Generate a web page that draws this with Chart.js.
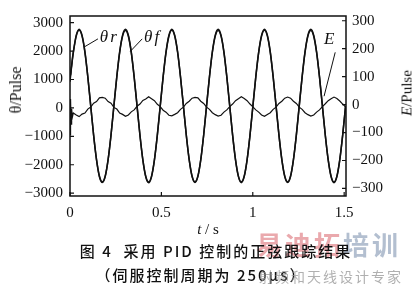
<!DOCTYPE html>
<html>
<head>
<meta charset="utf-8">
<script src="https://cdn.jsdelivr.net/npm/chart.js@4/dist/chart.umd.min.js"></script>
<style>
  html,body{margin:0;padding:0;background:#fff;}
  #wrap{position:relative;width:412px;height:284px;overflow:hidden;background:#fff;}
  #c{position:absolute;left:0;top:0;width:412px;height:284px;}
  .t{position:absolute;white-space:nowrap;color:#111;}
  .serif{font-family:"Liberation Serif","DejaVu Serif",serif;}
  .cjk{font-family:"Noto Sans CJK SC","Noto Sans",sans-serif;}
</style>
</head>
<body>
<div id="wrap">
  <canvas id="c" width="412" height="284"></canvas>
  <div class="t serif" style="left:16px;top:90px;font-size:16px;transform:translate(-50%,-50%) rotate(-90deg);">θ/Pulse</div>
  <div class="t serif" style="left:407px;top:93px;font-size:15px;transform:translate(-50%,-50%) rotate(-90deg);"><i>E</i>/Pulse</div>
  <div class="t serif" style="left:208px;top:229px;font-size:15px;transform:translate(-50%,-50%);"><i>t</i> / s</div>
  <div class="t cjk" style="left:256px;top:243px;font-size:26px;font-weight:bold;letter-spacing:3px;transform:translateY(-50%);"><span style="color:#eaa9ad">易迪拓</span><span style="color:#b3bfd0">培训</span></div>
  <div class="t cjk" style="left:216px;top:250px;font-size:15px;font-weight:500;letter-spacing:2px;transform:translate(-50%,-50%);">图 4&nbsp; 采用 PID 控制的正弦跟踪结果</div>
  <div class="t cjk" style="left:201px;top:274px;font-size:15px;font-weight:500;letter-spacing:2px;transform:translate(-50%,-50%);">（伺服控制周期为 250μs）</div>
  <div class="t cjk" style="left:259px;top:276px;font-size:14px;letter-spacing:2px;color:rgba(150,150,150,0.75);transform:translateY(-50%);">射频和天线设计专家</div>
</div>
<script>
// ---- data ----
const timeS = [0, 0.002, 0.004, 0.006, 0.009, 0.013, 0.0183, 0.0342,
  0.0500, 0.0658, 0.0817, 0.0975, 0.1134, 0.1292, 0.1451, 0.1609, 0.1768, 0.1926, 0.2084, 0.2243, 0.2401, 0.2560, 0.2718, 0.2877,
  0.3035, 0.3193, 0.3352, 0.3510, 0.3669, 0.3827, 0.3986, 0.4144, 0.4303, 0.4461, 0.4619, 0.4778, 0.4936, 0.5095, 0.5253, 0.5412,
  0.5570, 0.5728, 0.5887, 0.6045, 0.6204, 0.6362, 0.6521, 0.6679, 0.6838, 0.6996, 0.7154, 0.7313, 0.7471, 0.7630, 0.7788, 0.7947,
  0.8105, 0.8263, 0.8422, 0.8580, 0.8739, 0.8897, 0.9056, 0.9214, 0.9373, 0.9531, 0.9689, 0.9848, 1.0006, 1.0165, 1.0323, 1.0482,
  1.0640, 1.0798, 1.0957, 1.1115, 1.1274, 1.1432, 1.1591, 1.1749, 1.1908, 1.2066, 1.2224, 1.2383, 1.2541, 1.2700, 1.2858, 1.3017,
  1.3175, 1.3333, 1.3492, 1.3650, 1.3809, 1.3967, 1.4126, 1.4284, 1.4443, 1.4601, 1.4759, 1.4918, 1.5076];

const thetaR = [934, 1054, 1179, 1296, 1469, 1688, 1949, 2527,
  2730, 2527, 1949, 1085, 65, -955, -1819, -2397, -2600, -2397, -1819, -955, 65, 1085, 1949, 2527,
  2725, 2522, 1945, 1080, 60, -960, -1825, -2403, -2605, -2400, -1822, -958, 62, 1082, 1946, 2524,
  2732, 2529, 1950, 1087, 66, -954, -1818, -2395, -2598, -2396, -1818, -953, 66, 1086, 1950, 2528,
  2728, 2525, 1947, 1083, 63, -957, -1821, -2399, -2602, -2398, -1820, -956, 64, 1084, 1948, 2526,
  2730, 2527, 1949, 1085, 65, -955, -1819, -2397, -2600, -2397, -1819, -955, 65, 1085, 1949, 2527,
  2726, 2523, 1946, 1082, 62, -958, -1822, -2400, -2603, -2399, -1821, -957, 63];

const thetaF = [934, 1164, 1159, 1366, 1484, 1733, 1979, 2564,
  2773, 2561, 1979, 1101, 74, -960, -1830, -2421, -2626, -2420, -1830, -960, 75, 1101, 1979, 2562,
  2767, 2559, 1971, 1099, 66, -962, -1840, -2423, -2633, -2421, -1836, -959, 69, 1102, 1973, 2562,
  2772, 2564, 1979, 1104, 75, -958, -1830, -2418, -2624, -2420, -1830, -957, 75, 1103, 1979, 2564,
  2769, 2563, 1974, 1102, 70, -959, -1835, -2420, -2630, -2420, -1834, -958, 72, 1103, 1975, 2563,
  2772, 2562, 1978, 1102, 74, -959, -1831, -2420, -2627, -2420, -1831, -959, 74, 1102, 1978, 2563,
  2767, 2560, 1973, 1101, 69, -961, -1836, -2421, -2630, -2421, -1834, -959, 71];

const errorE = [0, -110, 20, -70, -15, -45, -30, -37,
  -43, -34, -30, -16, -9, 5, 11, 24, 26, 23, 11, 5, -10, -16, -30, -35,
  -42, -37, -26, -19, -6, 2, 15, 20, 28, 21, 14, 1, -7, -20, -27, -38,
  -40, -35, -29, -17, -9, 4, 12, 23, 26, 24, 12, 4, -9, -17, -29, -36,
  -41, -38, -27, -19, -7, 2, 14, 21, 28, 22, 14, 2, -8, -19, -27, -37,
  -42, -35, -29, -17, -9, 4, 12, 23, 27, 23, 12, 4, -9, -17, -29, -36,
  -41, -37, -27, -19, -7, 3, 14, 21, 27, 22, 13, 2, -8];

const xTickValues = [0, 0.5, 1, 1.5];
const thetaTickValues = [-3000, -2000, -1000, 0, 1000, 2000, 3000];
const errorTickValues = [-300, -200, -100, 0, 100, 200, 300];

// ---- annotation placement (data units) ----
const notes = [
  {text:'θr', axis:'y',  t:0.215, v:2490, from:[0.153, 2430], to:[0.082, 2160]},
  {text:'θf', axis:'y',  t:0.452, v:2490, from:[0.395, 2430], to:[0.330, 1990]},
  {text:'E',  axis:'y1', t:1.418, v:232,  from:[1.451, 187],  to:[1.390, 30]}
];

const pts = (ys) => timeS.map((x, i) => ({x, y: ys[i]}));
const ink = '#111';
const tickFont = {family:'"Liberation Serif", "DejaVu Serif", serif', size:15};
const fmt = (v) => v < 0 ? '\u2212' + Math.abs(v) : String(v);

const framePlugin = {
  id: 'frame',
  afterDatasetsDraw(chart) {
    const {ctx, chartArea: a, scales} = chart;
    ctx.save();
    ctx.strokeStyle = ink;
    ctx.lineWidth = 1.5;
    ctx.strokeRect(a.left, a.top, a.right - a.left, a.bottom - a.top);
    ctx.lineWidth = 1.2;
    ctx.beginPath();
    scales.x.ticks.forEach(tk => {
      const p = scales.x.getPixelForValue(tk.value);
      ctx.moveTo(p, a.bottom); ctx.lineTo(p, a.bottom - 4);
    });
    scales.y.ticks.forEach(tk => {
      const p = scales.y.getPixelForValue(tk.value);
      ctx.moveTo(a.left, p); ctx.lineTo(a.left + 4, p);
    });
    scales.y1.ticks.forEach(tk => {
      const p = scales.y1.getPixelForValue(tk.value);
      ctx.moveTo(a.right, p); ctx.lineTo(a.right - 4, p);
    });
    ctx.stroke();
    // annotations
    ctx.fillStyle = ink;
    ctx.font = 'italic 17px "Liberation Serif", "DejaVu Serif", serif';
    ctx.textAlign = 'center';
    ctx.textBaseline = 'middle';
    ctx.lineWidth = 1;
    notes.forEach(n => {
      const ys = scales[n.axis];
      if ('letterSpacing' in ctx) ctx.letterSpacing = n.text.length > 1 ? '2px' : '0px';
      ctx.fillText(n.text, scales.x.getPixelForValue(n.t), ys.getPixelForValue(n.v));
      ctx.beginPath();
      ctx.moveTo(scales.x.getPixelForValue(n.from[0]), ys.getPixelForValue(n.from[1]));
      ctx.lineTo(scales.x.getPixelForValue(n.to[0]), ys.getPixelForValue(n.to[1]));
      ctx.stroke();
    });
    ctx.restore();
  }
};

new Chart(document.getElementById('c'), {
  type: 'line',
  data: {
    datasets: [
      {label:'θr', data: pts(thetaR), yAxisID:'y', borderColor: ink, borderWidth:1.5, pointRadius:0, cubicInterpolationMode:'monotone'},
      {label:'θf', data: pts(thetaF), yAxisID:'y', borderColor: ink, borderWidth:1.5, pointRadius:0, cubicInterpolationMode:'monotone'},
      {label:'E',  data: pts(errorE), yAxisID:'y1', borderColor: ink, borderWidth:1.2, pointRadius:0, tension:0}
    ]
  },
  options: {
    responsive: false,
    devicePixelRatio: 1,
    animation: false,
    events: [],
    layout: {padding: {top: 7, left: 0, right: 0, bottom: 0}},
    plugins: {legend: {display: false}, tooltip: {enabled: false}},
    scales: {
      x: {
        type: 'linear', position: 'bottom', min: 0, max: 1.51,
        afterBuildTicks: s => { s.ticks = xTickValues.map(v => ({value: v})); },
        afterFit: s => { s.height = 88; },
        grid: {display: false, drawTicks: false}, border: {display: false},
        ticks: {font: tickFont, color: ink, padding: 8, maxRotation: 0, callback: v => String(v)}
      },
      y: {
        type: 'linear', position: 'left', min: -3100, max: 3235,
        afterBuildTicks: s => { s.ticks = thetaTickValues.map(v => ({value: v})); },
        afterFit: s => { s.width = 70; },
        grid: {display: false, drawTicks: false}, border: {display: false},
        ticks: {font: tickFont, color: ink, padding: 7, callback: fmt}
      },
      y1: {
        type: 'linear', position: 'right', min: -327, max: 317,
        afterBuildTicks: s => { s.ticks = errorTickValues.map(v => ({value: v})); },
        afterFit: s => { s.width = 66; },
        grid: {display: false, drawTicks: false}, border: {display: false},
        ticks: {font: tickFont, color: ink, padding: 6, callback: fmt}
      }
    }
  },
  plugins: [framePlugin]
});
</script>
</body>
</html>
